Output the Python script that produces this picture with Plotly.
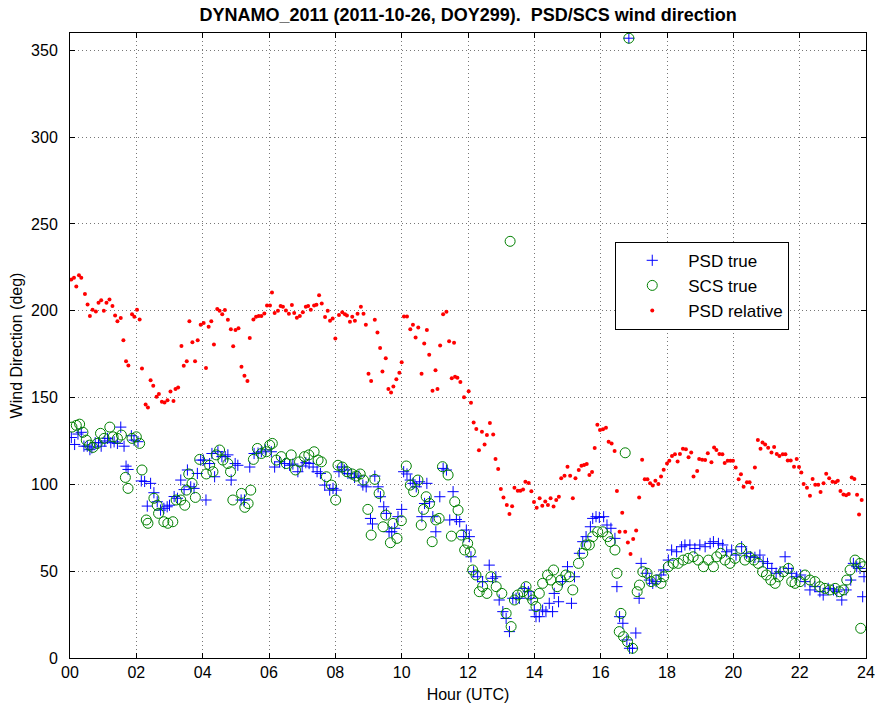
import plotly.graph_objects as go

# ---------------- data ----------------
x_tick_vals = [0, 2, 4, 6, 8, 10, 12, 14, 16, 18, 20, 22, 24]
x_tick_text = ["00", "02", "04", "06", "08", "10", "12", "14", "16", "18", "20", "22", "24"]
y_tick_vals = [0, 50, 100, 150, 200, 250, 300, 350]

psd_true_hour = [
    0.04, 0.14, 0.24, 0.34, 0.42, 0.52, 0.60, 0.66, 0.76, 0.86, 0.94, 1.05, 1.13, 1.23, 1.33, 1.43, 1.53, 1.63, 1.69, 1.75,
    1.85, 1.93, 2.05, 2.15, 2.25, 2.33, 2.43, 2.53, 2.63, 2.73, 2.83, 2.93, 3.00, 3.14, 3.24, 3.34, 3.44, 3.54, 3.64, 3.74,
    3.84, 3.94, 4.02, 4.10, 4.21, 4.28, 4.36, 4.46, 4.58, 4.68, 4.76, 4.86, 4.98, 5.06, 5.16, 5.26, 5.42, 5.55, 5.67, 5.77,
    5.89,
    6.07, 6.17, 6.32, 6.47, 6.62, 6.72, 6.87, 7.00, 7.11, 7.21, 7.33, 7.45, 7.55, 7.68, 7.83, 7.93, 8.03, 8.11, 8.18, 8.28,
    8.38, 8.48, 8.58, 8.71, 8.83, 8.93, 9.06, 9.12, 9.19, 9.29, 9.36, 9.46, 9.54, 9.62, 9.70, 9.79, 9.89, 10.00, 10.06, 10.16,
    10.26, 10.34, 10.44, 10.54, 10.61, 10.69, 10.76, 10.84, 10.94, 11.03, 11.15, 11.25, 11.35, 11.45, 11.55, 11.65, 11.75, 11.87, 11.95,
    12.04, 12.09, 12.17, 12.29, 12.44, 12.64, 12.74, 12.84, 12.94, 13.05, 13.15, 13.25, 13.35, 13.45, 13.55, 13.70, 13.82, 13.90,
    14.00, 14.05, 14.15, 14.25, 14.35, 14.45, 14.55, 14.60, 14.73, 14.85, 15.00, 15.12, 15.21, 15.36, 15.46, 15.56, 15.69, 15.76,
    15.86, 15.96, 16.09, 16.19, 16.31, 16.43, 16.49, 16.57, 16.67, 16.79, 16.85, 16.87, 16.96, 17.06, 17.16, 17.22, 17.37, 17.47,
    17.57, 17.67, 17.82, 17.90,
    18.04, 18.14, 18.29, 18.44, 18.54, 18.69, 18.84, 18.99, 19.15, 19.30, 19.40, 19.55, 19.68, 19.80, 19.95, 20.08, 20.25, 20.40,
    20.52, 20.65, 20.80, 20.90, 21.03, 21.16, 21.29, 21.41, 21.56, 21.66, 21.76, 21.91, 22.03, 22.16, 22.31, 22.46, 22.61, 22.71,
    22.86, 23.02, 23.12, 23.27, 23.40, 23.54, 23.62, 23.72, 23.82, 23.90, 23.94,
]
psd_true_deg = [
    127, 123, 129, 130, 122, 122, 120, 121, 124, 124, 122, 125, 126.5, 124, 124.5, 123.6, 133, 122, 110.5, 108.6,
    128, 125.5, 124.6, 102, 101.7, 87.5, 100.6, 95.2, 90, 85.2, 86.2, 87.1, 88, 93, 92, 102.5, 97, 108.3, 98.6, 97.7,
    106.3, 114, 114, 91, 112, 117.8, 104.4, 118.8, 116, 116, 117, 102.5, 112, 111, 91, 91, 110, 117.8, 118, 118.8,
    119.8,
    118.8, 110, 113, 112, 111, 111.7, 107.3, 110.6, 112.5, 112, 110, 107.3, 106.3, 99.6, 96.7, 97.7, 96.7, 107.3, 110, 108.3,
    106.3, 106, 104, 104.8, 99.6, 98.6, 80.4, 77.2, 104.8, 98.6, 92.9, 87.1, 83.3, 72.7, 72.7, 74.7, 81.4, 85.6, 107.3, 106,
    102.5, 100.6, 98.6, 101.5, 81.4, 89, 100.6, 90, 81.4, 72.7, 92.9, 109.2, 108.3, 79.5, 95.8, 79.8, 78.5, 69.9, 73.7,
    69.9, 58.3, 49.7, 46.8, 44, 53.5, 45.9, 46.8, 33.4, 26.7, 22.8, 15.2, 34.4, 34.4, 34.4, 40.1, 38.2, 34.4,
    27.6, 23.8, 23.8, 27.6, 26.7, 31.5, 26.7, 37.2, 32.4, 44, 52.6, 31.5, 46.8, 60.3, 67, 69.9, 75.6, 80.4,
    81.4, 81, 81.4, 76.6, 74.7, 68.9, 41.1, 23.8, 20, 10.4, 357, 5.6, 5.6, 14.4, 34.4, 54.5, 48.8, 44.9,
    43, 44, 47.8, 50.7,
    56.4, 62.2, 61.2, 64.1, 65.1, 65.1, 63.1, 65.1, 64.1, 66, 67, 66, 65.1, 61.2, 62.2, 59.3, 64.1, 60.3,
    58.3, 58, 59.3, 55.5, 54.5, 51.6, 48.8, 49.7, 58.3, 51.6, 48.8, 46.8, 47.8, 44, 39.2, 41.1, 38.2, 36.3,
    40.1, 39.2, 38.2, 33.4, 39.2, 44.9, 54.5, 52.6, 51.6, 35.3, 46.8,
]

scs_true_hour = [
    0.06, 0.19, 0.29, 0.39, 0.49, 0.59, 0.69, 0.82, 0.92, 1.03, 1.20, 1.30, 1.43, 1.55, 1.67, 1.75, 1.87, 2.00, 2.10, 2.17,
    2.30, 2.35, 2.53, 2.63, 2.67, 2.83, 2.95, 3.10, 3.20, 3.34, 3.46, 3.51, 3.58, 3.68, 3.78, 3.91, 4.11, 4.21, 4.31, 4.41,
    4.51, 4.61, 4.76, 4.84, 4.91, 5.17, 5.27, 5.37, 5.45, 5.53, 5.65, 5.77, 5.92,
    6.02, 6.10, 6.22, 6.37, 6.52, 6.67, 6.80, 6.92, 7.07, 7.20, 7.36, 7.48, 7.58, 7.73, 7.88, 8.01, 8.08, 8.21, 8.35, 8.51,
    8.63, 8.75, 8.85, 8.98, 9.08, 9.19, 9.32, 9.44, 9.52, 9.66, 9.74, 9.86, 9.99, 10.14, 10.26, 10.36, 10.49, 10.59, 10.66, 10.74,
    10.84, 10.92, 11.03, 11.13, 11.23, 11.40, 11.50, 11.60, 11.70, 11.80, 11.90,
    11.99, 12.07, 12.14, 12.24, 12.34, 12.44, 12.57, 12.69, 12.85, 13.02, 13.15, 13.27, 13.30, 13.40, 13.50, 13.65, 13.75, 13.85,
    13.95, 14.05, 14.15, 14.25, 14.40, 14.50, 14.58, 14.69, 14.80, 14.95, 15.06, 15.16, 15.33, 15.46, 15.56, 15.66, 15.76, 15.91,
    16.06, 16.21, 16.29, 16.43, 16.49, 16.56, 16.61, 16.69, 16.74, 16.81, 16.85, 16.96, 17.10, 17.17, 17.27, 17.40, 17.52, 17.67,
    17.82, 17.90,
    18.04, 18.19, 18.34, 18.49, 18.64, 18.79, 18.94, 19.10, 19.25, 19.40, 19.50, 19.62, 19.75, 19.90, 20.05, 20.22, 20.35, 20.48,
    20.62, 20.75, 20.88, 21.00, 21.13, 21.26, 21.36, 21.51, 21.66, 21.76, 21.86, 22.01, 22.16, 22.31, 22.46, 22.61, 22.76, 22.91,
    23.07, 23.20, 23.32, 23.42, 23.52, 23.67, 23.82, 23.84, 23.92,
]
scs_true_deg = [
    133, 134, 134.7, 130, 125.5, 122.6, 121.3, 123.6, 129.4, 126.5, 133, 127.4, 126.5, 128.4, 104, 97.7, 126.5, 127.4, 123.6, 108.3,
    79.5, 77.6, 92, 88, 83.3, 78.5, 77.6, 78.5, 91, 91, 88, 96.7, 106, 100.6, 92.5, 114.4, 106, 111, 107.3, 117,
    119.8, 114, 112, 107.3, 91, 94.8, 86.8, 89, 96.7, 114.4, 120.7, 117.8, 118.8,
    122.6, 123.6, 114, 116, 112, 117, 108.3, 113, 116, 117, 118.8, 114, 113, 104.4, 99.6, 91, 111, 110, 107.3, 106,
    104.8, 106, 102.5, 85.6, 70.8, 102.9, 94.8, 75.6, 82.3, 66.4, 77.5, 68.9, 79.1, 110.6, 99.6, 95.8, 102.5, 76.6, 85.6, 92.9,
    89, 67, 79.5, 80.4, 110.2, 105.4, 70.2, 90, 85.2, 70.8, 62.2,
    66, 61.2, 50.7, 47.8, 38.2, 41.1, 37.2, 46.8, 41.1, 37.2, 25.7, 240, 18.1, 33.4, 36.3, 38.2, 41.1, 36.3,
    33.4, 29.6, 37.2, 43, 47.8, 44.9, 50.7, 41.1, 44.9, 47.8, 46.8, 39.2, 54.5, 60.3, 65.1, 65.1, 69.9, 72.7,
    72.7, 69.9, 67, 62.2, 48.8, 15.2, 25.7, 12.3, 118.2, 9.4, 357, 5.6, 38.2, 42, 49.7, 48.8, 44, 44.9,
    43, 46.8,
    52.6, 54.5, 54.5, 56.4, 57.4, 58.3, 56.4, 52.6, 56.4, 52.6, 58.3, 60.3, 56.4, 54.5, 57.4, 63.1, 56.4, 58.3,
    56.4, 54.5, 49.7, 47.8, 44.9, 43, 46.8, 49.7, 51.6, 44, 43, 44, 47.8, 44.9, 44, 41.1, 40.1, 39.2,
    40.1, 38.2, 39.2, 44.9, 50.7, 56.4, 54.5, 17.1, 52.6,
]

psd_rel_hour = [
    0.04, 0.12, 0.19, 0.27, 0.34, 0.45, 0.53, 0.60, 0.68, 0.78, 0.86, 0.94, 1.02, 1.10, 1.19, 1.28, 1.36, 1.43, 1.53, 1.61,
    1.69, 1.76, 1.87, 1.94, 2.02, 2.10, 2.17, 2.28, 2.35, 2.43, 2.51, 2.61, 2.68, 2.77, 2.85, 2.94, 3.03, 3.12, 3.18, 3.26,
    3.36, 3.43, 3.52, 3.60, 3.69, 3.77, 3.85, 3.94, 4.03, 4.10, 4.18, 4.26, 4.34, 4.44, 4.51, 4.59, 4.67, 4.76, 4.85, 4.92,
    4.99, 5.08, 5.17, 5.26, 5.35, 5.42, 5.53, 5.61, 5.69, 5.77, 5.86, 5.94,
    6.03, 6.09, 6.17, 6.27, 6.35, 6.42, 6.51, 6.60, 6.69, 6.76, 6.84, 6.93, 7.02, 7.11, 7.18, 7.26, 7.36, 7.43, 7.51, 7.59,
    7.69, 7.77, 7.84, 7.92, 8.00, 8.11, 8.21, 8.29, 8.35, 8.44, 8.51, 8.59, 8.67, 8.77, 8.85, 8.92, 9.00, 9.08, 9.19, 9.27,
    9.35, 9.42, 9.52, 9.60, 9.68, 9.75, 9.84, 9.93, 10.00, 10.07, 10.16, 10.26, 10.34, 10.42, 10.50, 10.60, 10.68, 10.76, 10.83, 10.93,
    11.02, 11.08, 11.16, 11.25, 11.35, 11.43, 11.51, 11.58, 11.61, 11.68, 11.77, 11.88,
    12.02, 12.09, 12.17, 12.25, 12.33, 12.42, 12.50, 12.57, 12.66, 12.76, 12.83, 12.91, 12.99, 13.07, 13.17, 13.25, 13.33, 13.40,
    13.50, 13.58, 13.66, 13.73, 13.83, 13.91, 13.99, 14.07, 14.16, 14.24, 14.33, 14.41, 14.49, 14.58, 14.66, 14.74, 14.81, 14.91,
    15.00, 15.08, 15.16, 15.24, 15.34, 15.42, 15.50, 15.58, 15.66, 15.74, 15.82, 15.90, 15.98, 16.07, 16.16, 16.24, 16.33, 16.42,
    16.49, 16.57, 16.65, 16.74, 16.82, 16.90, 16.98, 17.07, 17.16, 17.25, 17.33, 17.41, 17.49, 17.57, 17.65, 17.74, 17.82, 17.90,
    18.00, 18.07, 18.15, 18.24, 18.32, 18.39, 18.48, 18.57, 18.65, 18.73, 18.80, 18.91, 18.97, 19.06, 19.15, 19.23, 19.34, 19.42,
    19.49, 19.58, 19.67, 19.74, 19.83, 19.91, 19.99, 20.07, 20.16, 20.23, 20.31, 20.41, 20.49, 20.57, 20.65, 20.74, 20.82, 20.88,
    20.96, 21.05, 21.15, 21.23, 21.31, 21.39, 21.49, 21.57, 21.64, 21.73, 21.83, 21.91, 21.98, 22.05, 22.12, 22.22, 22.31, 22.39,
    22.47, 22.56, 22.63, 22.72, 22.80, 22.89, 22.99, 23.08, 23.15, 23.23, 23.32, 23.40, 23.48, 23.57, 23.65, 23.73, 23.79, 23.87,
]
psd_rel_deg = [
    218, 219, 214, 220.5, 219, 209.6, 203.6, 197, 200.6, 199.6, 204.6, 206, 200, 204.6, 206.5, 202.7, 197.3, 194, 195.8, 183,
    171, 168.5, 198, 196.5, 200.6, 195, 166.8, 146, 144.3, 160, 156.8, 150.5, 152, 147.6, 147.2, 148.5, 153.5, 148, 155, 155.8,
    179.7, 168.3, 171, 194, 181.8, 171, 183, 192, 193, 167, 190.8, 194, 180.6, 201, 200, 198, 200.4, 194.8, 189.4, 179.5,
    189, 190, 167.8, 162.6, 159.5, 184.3, 195, 196.5, 197, 197, 198.5, 203,
    203, 210.5, 198.7, 200, 202.7, 202.3, 200.2, 198.3, 203.3, 198.7, 196, 197, 199.2, 202.3, 202.7, 200.6, 203, 203.5, 209, 204.2,
    196.4, 200, 194.2, 195.6, 184, 197.5, 199.2, 198, 197.3, 193.7, 196.5, 194.2, 198.3, 202.3, 198.3, 192, 163.7, 159.5, 194.8, 187.5,
    178.5, 165, 172.7, 155, 153, 156.4, 160.5, 164.3, 170.3, 196.7, 196.7, 189.4, 192, 184.6, 190.4, 163.7, 181.2, 188.9, 174.7, 154,
    165.8, 155, 180, 198, 199.4, 182.5, 161.2, 181.6, 162, 161.4, 159, 150.2,
    153.6, 147, 135.7, 131.9, 119.6, 130.3, 123, 128.4, 135.3, 128.8, 114.6, 108.8, 97.3, 92.5, 88.1, 82.9, 87.4, 98,
    96.3, 96.3, 97, 101.5, 100.8, 96, 89.8, 86.6, 92, 87.7, 90.2, 88.1, 92, 87.2, 91, 92.9, 103.5, 105,
    110.2, 105, 92, 103.5, 108.3, 110.7, 111.1, 111.7, 105.4, 107.1, 120.9, 134.4, 131.3, 131.7, 132.6, 124.6, 123.6, 119.2,
    96.2, 72.7, 83.7, 72.7, 66.6, 59.9, 68.5, 73.5, 92.5, 114.2, 102.9, 102.9, 100.6, 99.4, 102.1, 100.2, 104.6, 108.5,
    112.1, 113.6, 116.3, 117.3, 113.2, 117.5, 120.5, 120.3, 115.7, 118.4, 104.6, 107.7, 114.6, 114.2, 114, 118, 112.7, 121.3,
    119.8, 117.5, 117.3, 112.3, 113.6, 113.6, 113.6, 109.8, 102.9, 105.8, 98.7, 101.3, 101.3, 98.1, 109.8, 125.5, 120.5, 124.2,
    123, 121.1, 118.4, 121.5, 117.5, 116.3, 117.3, 117.3, 113.8, 113.8, 110.2, 114.6, 110, 106.9, 100.2, 98.1, 93.5, 103.1,
    99.8, 99.8, 95.6, 100.6, 106.1, 103.5, 101.5, 101.2, 102.1, 96.2, 94.2, 93.8, 94.4, 104, 103.1, 94, 82.7, 91,
]

# ---------------- figure ----------------
FONT = "Liberation Sans, Arial, Helvetica, sans-serif"

fig = go.Figure()
fig.add_trace(go.Scatter(
    x=psd_true_hour, y=psd_true_deg, mode="markers", name="PSD true",
    marker=dict(symbol="cross-thin-open", size=8, color="#0000ff",
                line=dict(color="#0000ff", width=1)),
))
fig.add_trace(go.Scatter(
    x=scs_true_hour, y=scs_true_deg, mode="markers", name="SCS true",
    marker=dict(symbol="circle-open", size=10, color="#008000",
                line=dict(color="#008000", width=1)),
))
fig.add_trace(go.Scatter(
    x=psd_rel_hour, y=psd_rel_deg, mode="markers", name="PSD relative",
    marker=dict(symbol="circle", size=4, color="#ff0000", line=dict(width=0)),
))

axis_common = dict(
    showline=True, linecolor="black", linewidth=1, mirror="ticks",
    ticks="inside", ticklen=5, tickcolor="black", tickwidth=1,
    showgrid=True, gridcolor="#777777", gridwidth=1, griddash="1px,3px",
    zeroline=False, tickfont=dict(family=FONT, size=16, color="black"),
    automargin=False,
)

fig.update_xaxes(
    range=[0, 24], tickvals=x_tick_vals, ticktext=x_tick_text,
    title=dict(text="Hour (UTC)", font=dict(family=FONT, size=16, color="black"), standoff=8),
    **axis_common,
)
fig.update_yaxes(
    range=[0, 360], tickvals=y_tick_vals,
    title=dict(text="Wind Direction (deg)", font=dict(family=FONT, size=16, color="black"), standoff=4),
    ticklabelstandoff=8,
    **axis_common,
)

fig.update_layout(
    width=875, height=713,
    margin=dict(l=70, r=9, t=33, b=55),
    paper_bgcolor="white", plot_bgcolor="white",
    title=dict(text="<b>DYNAMO_2011 (2011-10-26, DOY299).  PSD/SCS wind direction</b>",
               x=0.535, xanchor="center", y=0.980, yanchor="middle",
               font=dict(family=FONT, size=18, color="black")),
    legend=dict(x=0.685, y=0.666, xanchor="left", yanchor="top",
                bgcolor="white", bordercolor="black", borderwidth=1,
                itemwidth=62,
                font=dict(family=FONT, size=17, color="black")),
    showlegend=True,
)

fig.write_html("out.html")
